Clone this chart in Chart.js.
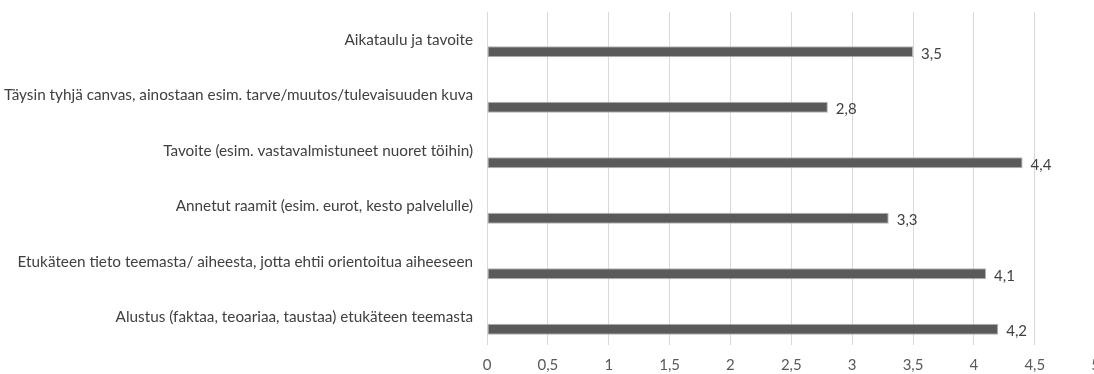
<!DOCTYPE html>
<html>
<head>
<meta charset="utf-8">
<title>Aloituksen tausta</title>
<script src="https://cdn.jsdelivr.net/npm/chart.js@4.4.1/dist/chart.umd.min.js"></script>
<style>
  html, body { margin: 0; padding: 0; background: #fff; overflow: hidden; }
  #wrap { position: relative; width: 1111px; height: 374px; }
</style>
</head>
<body>
<div id="wrap"><canvas id="chart"></canvas></div>
<script>
const categories = [
  "Aikataulu ja tavoite",
  "Täysin tyhjä canvas, ainostaan esim. tarve/muutos/tulevaisuuden kuva",
  "Tavoite (esim. vastavalmistuneet nuoret töihin)",
  "Annetut raamit (esim. eurot, kesto palvelulle)",
  "Etukäteen tieto teemasta/ aiheesta, jotta ehtii orientoitua aiheeseen",
  "Alustus (faktaa, teoariaa, taustaa) etukäteen teemasta",
];
const averages = [3.5, 2.8, 4.4, 3.3, 4.1, 4.2];
// empty series that occupies the upper slot of each category
const placeholder = [null, null, null, null, null, null];

const axisMin = 0;
const axisMax = 5;
const axisStep = 0.5;

const fi = (v) => String(v).replace(".", ",");

// value labels to the right of each bar
const valueLabels = {
  id: "valueLabels",
  afterDatasetsDraw(chart) {
    const ctx = chart.ctx;
    const meta = chart.getDatasetMeta(1);
    ctx.save();
    ctx.font = "15px Lato";
    ctx.fillStyle = "#404040";
    ctx.textAlign = "left";
    ctx.textBaseline = "middle";
    meta.data.forEach((bar, i) => {
      ctx.fillText(fi(averages[i]), bar.x + 8, bar.y + 2);
    });
    ctx.restore();
  },
};

new Chart(document.getElementById("chart"), {
  type: "bar",
  data: {
    labels: categories,
    datasets: [
      {
        label: "",
        data: placeholder,
      },
      {
        label: "Keskiarvo",
        data: averages,
        backgroundColor: "#5a5a5a",
        borderColor: "#b4b4b4",
        borderWidth: 1,
        borderSkipped: false,
      },
    ],
  },
  options: {
    indexAxis: "y",
    responsive: true,
    maintainAspectRatio: false,
    animation: false,
    categoryPercentage: 0.86,
    barPercentage: 0.46,
    layout: {
      padding: { top: 12, left: 0, right: 0, bottom: 0 },
    },
    plugins: {
      legend: { display: false },
      tooltip: { enabled: false },
    },
    scales: {
      x: {
        min: axisMin,
        max: axisMax,
        ticks: {
          stepSize: axisStep,
          padding: 11,
          color: "#595959",
          font: { family: "Lato", size: 15 },
          callback: (v) => fi(v),
        },
        grid: { color: "#d9d9d9", drawTicks: false },
        border: { display: false },
        afterFit(scale) {
          scale.height = 29;
        },
      },
      y: {
        ticks: {
          padding: 14,
          color: "#404040",
          font: { family: "Lato", size: 15.3 },
        },
        grid: { display: false, drawTicks: false },
        border: { display: false },
        afterFit(scale) {
          scale.width = 487;
          scale.paddingTop = 0;
          scale.paddingBottom = 0;
        },
      },
    },
  },
  plugins: [valueLabels],
});
</script>
</body>
</html>
